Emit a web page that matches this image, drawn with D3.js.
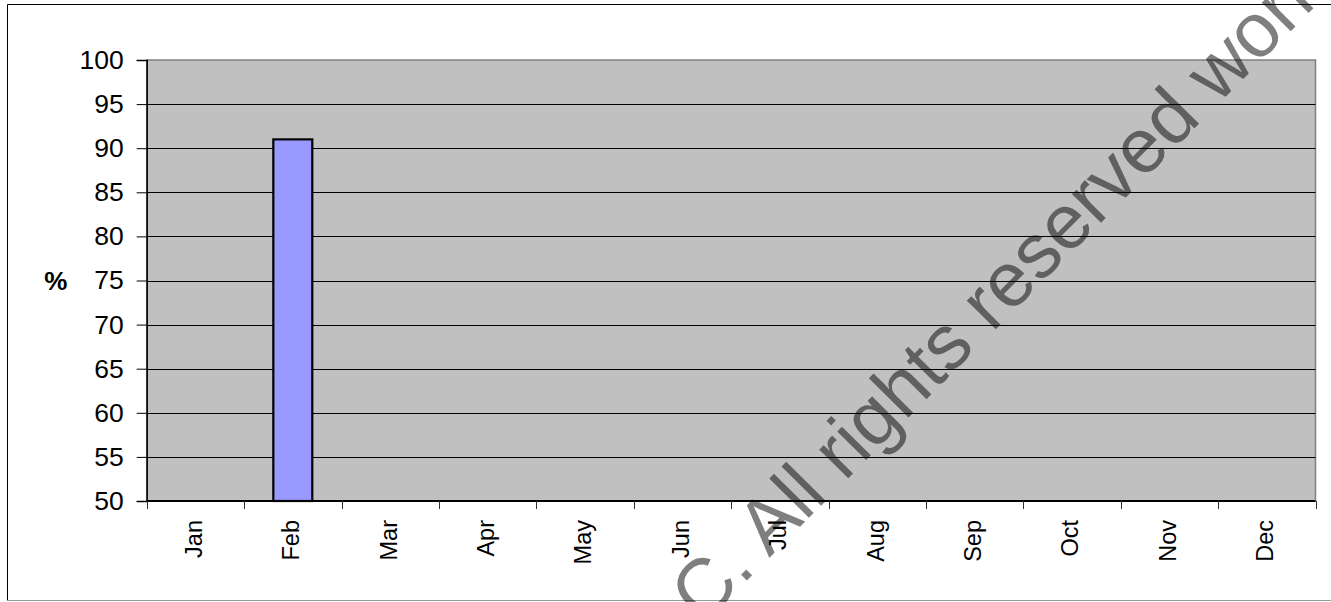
<!DOCTYPE html>
<html>
<head>
<meta charset="utf-8">
<script src="https://cdn.jsdelivr.net/npm/d3@7"></script>
<style>
  html, body { margin: 0; padding: 0; background: #fff; }
  svg { display: block; font-family: Arial, "Liberation Sans", sans-serif; }
</style>
</head>
<body>
<svg id="chart" width="1331" height="602"></svg>
<script>
// Monthly percentage values (only February has a reading)
const months = ["Jan", "Feb", "Mar", "Apr", "May", "Jun", "Jul", "Aug", "Sep", "Oct", "Nov", "Dec"];
const values = [null, 91, null, null, null, null, null, null, null, null, null, null];
const yTicks = [50, 55, 60, 65, 70, 75, 80, 85, 90, 95, 100];
const yLabel = "%";
const watermark = "C. All rights reserved worldwide";

const svg = d3.select("#chart");
const W = 1331, H = 602;
const plot = { left: 146.7, right: 1315.5, top: 60, bottom: 501 };

// Outer chart frame
svg.append("rect").attr("x", 0).attr("y", 0).attr("width", W).attr("height", H).attr("fill", "#fff");
svg.append("line").attr("x1", 7.5).attr("x2", W).attr("y1", 4.5).attr("y2", 4.5).attr("stroke", "#000");
svg.append("line").attr("x1", 7.5).attr("x2", 7.5).attr("y1", 4.5).attr("y2", 600.5).attr("stroke", "#000");
svg.append("line").attr("x1", 7.5).attr("x2", W).attr("y1", 600.5).attr("y2", 600.5).attr("stroke", "#999");

const x = d3.scaleBand().domain(months).range([plot.left, plot.right]).padding(0);
const y = d3.scaleLinear().domain([50, 100]).range([plot.bottom, plot.top]);

// Plot area background
svg.append("rect")
  .attr("x", plot.left).attr("y", plot.top)
  .attr("width", plot.right - plot.left).attr("height", plot.bottom - plot.top)
  .attr("fill", "#c0c0c0").attr("stroke", "#808080").attr("stroke-width", 1.5);

// Horizontal gridlines
svg.append("g").selectAll("line")
  .data(yTicks.filter(t => t > 50 && t < 100))
  .join("line")
  .attr("x1", plot.left).attr("x2", plot.right)
  .attr("y1", d => Math.round(y(d)) + 0.5).attr("y2", d => Math.round(y(d)) + 0.5)
  .attr("stroke", "#000").attr("stroke-width", 1);

// Bars
svg.append("g").selectAll("rect")
  .data(months.map((m, i) => ({ m, v: values[i] })).filter(d => d.v != null))
  .join("rect")
  .attr("x", d => x(d.m) + x.bandwidth() * 0.3)
  .attr("width", x.bandwidth() * 0.4)
  .attr("y", d => y(d.v))
  .attr("height", d => y(50) - y(d.v))
  .attr("fill", "#9999ff").attr("stroke", "#000").attr("stroke-width", 2.2);

// Y axis
const yAxis = svg.append("g")
  .attr("transform", `translate(${plot.left},0)`)
  .call(d3.axisLeft(y).tickValues(yTicks).tickSize(10).tickPadding(13).tickFormat(d3.format("d")));
yAxis.select(".domain").attr("stroke", "#000").attr("stroke-width", 1.5);
yAxis.selectAll(".tick line").attr("stroke", "#000");
yAxis.selectAll(".tick text").attr("font-size", 26.5).attr("fill", "#000")
  .attr("font-family", "Arial, 'Liberation Sans', sans-serif");

// X axis: ticks at category boundaries, labels rotated
const xg = svg.append("g").attr("transform", `translate(0,${plot.bottom})`);
xg.append("line").attr("x1", plot.left).attr("x2", plot.right).attr("y1", 0).attr("y2", 0)
  .attr("stroke", "#000").attr("stroke-width", 2);
const bounds = months.map(m => x(m)).concat([x(months[months.length - 1]) + x.bandwidth()]);
xg.selectAll("line.tk").data(bounds).join("line").attr("class", "tk")
  .attr("x1", d => Math.round(d) + 0.5).attr("x2", d => Math.round(d) + 0.5)
  .attr("y1", 0).attr("y2", 8).attr("stroke", "#333");
xg.selectAll("text").data(months).join("text")
  .attr("transform", d => `translate(${x(d) + x.bandwidth() / 2 + 6.3},19) rotate(-90)`)
  .attr("text-anchor", "end")
  .attr("font-size", 23.5).attr("fill", "#000")
  .text(d => d);

// Y axis title
svg.append("text")
  .attr("x", 55.8).attr("y", 290)
  .attr("text-anchor", "middle")
  .attr("font-size", 26).attr("font-weight", "bold")
  .text(yLabel);

// Copyright watermark
svg.append("text")
  .attr("transform", "translate(703,625) rotate(-45.3)")
  .attr("font-size", 77).attr("fill", "#000").attr("fill-opacity", 0.5)
  .text(watermark);
</script>
</body>
</html>
